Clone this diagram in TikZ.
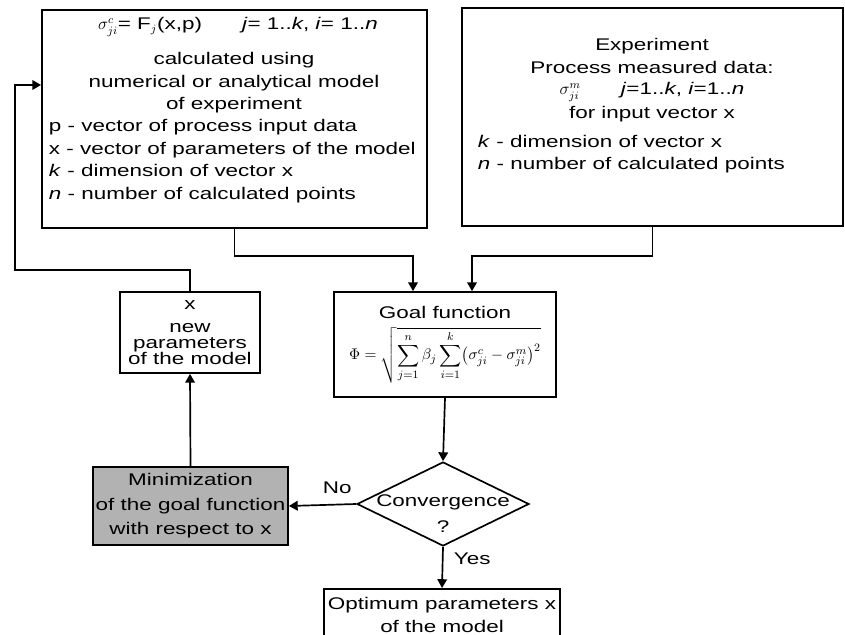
\documentclass[tikz,border=0pt]{standalone}
\usepackage{fontspec}
\setmainfont[FakeStretch=1.33]{Liberation Sans}
\usepackage{amsmath}
\usetikzlibrary{shapes.geometric,arrows.meta,calc}

\begin{document}
\begin{tikzpicture}[x=0.025cm, y=-0.025cm, font=\fontsize{12}{16}\selectfont,
    box/.style={draw, line width=1.2pt, inner sep=0pt},
    arrow/.style={line width=1.2pt, -{Triangle[length=2.2mm, width=2.4mm]}}]
    \useasboundingbox (0,0) rectangle (845,635);
    \clip (0,0) rectangle (845,635);

    % Model box
    \node[box, minimum width=9.625cm, minimum height=5.45cm] (MOD) at (234.5,119) {};
    \node (MODEQ) at (238,27) {$\sigma^{c}_{ji}$= F$_{j}$(x,p) \qquad \textit{j}= 1..\textit{k}, \textit{i}= 1..\textit{n}};
    \node[align=center] (MODTXT) at (234,83) {calculated using\\numerical or analytical model\\of experiment};
    \node[align=left, anchor=west] (MODLST) at (44,161) {p - vector of process input data\\x - vector of parameters of the model\\\textit{k} - dimension of vector x\\\textit{n} - number of calculated points};

    % Experiment box
    \node[box, minimum width=9.525cm, minimum height=5.45cm] (EXP) at (652.5,117) {};
    \node[align=center, font=\fontsize{12}{17}\selectfont] (EXPTXT) at (652,56) {Experiment\\Process measured data:};
    \node (EXPEQ) at (652,92) {$\sigma^{m}_{ji}$ \qquad \textit{j}=1..\textit{k}, \textit{i}=1..\textit{n}};
    \node (EXPIN) at (652,114) {for input vector x};
    \node[align=left, anchor=west] (EXPLST) at (473,154) {\textit{k} - dimension of vector x\\\textit{n} - number of calculated points};

    % Goal function
    \node[box, minimum width=5.55cm, minimum height=2.625cm, align=center] (GOAL) at (445,344.5) {Goal function\\[5pt]{\fontsize{11}{13}\selectfont$\displaystyle\Phi=\sqrt{\sum_{j=1}^{n}\beta_j\sum_{i=1}^{k}\bigl(\sigma^{c}_{ji}-\sigma^{m}_{ji}\bigr)^2}$}};

    % New parameters
    \node[box, minimum width=3.5cm, minimum height=2.025cm, align=center, font=\fontsize{12}{11.5}\selectfont] (NEW) at (190,332.5) {x\\[5pt]new\\parameters\\of the model};

    % Convergence check
    \node[draw, diamond, line width=1.2pt, minimum width=4.3cm, minimum height=2.1cm, inner sep=0pt] (CONV) at (443,504) {};
    \node[align=center, font=\fontsize{12}{18.5}\selectfont] (CONVTXT) at (443,514) {Convergence\\?};

    % Minimization
    \node[box, fill=black!30, minimum width=4.875cm, minimum height=1.95cm, align=center, font=\fontsize{12}{17.5}\selectfont] (MIN) at (190.5,506) {Minimization\\of the goal function\\with respect to x};

    % Optimum
    \node[box, anchor=north, minimum width=5.9cm, minimum height=1.325cm, align=center, font=\fontsize{12}{16.4}\selectfont] (OPT) at (442,588) {Optimum parameters x\\of the model};

    % Connectors
    \draw[arrow] (MOD.south) -- ++(0,27) -| ($(GOAL.north)+(-32,0)$);
    \draw[arrow] (EXP.south) -- ++(0,29) -| ($(GOAL.north)+(27,0)$);
    \draw[arrow] (GOAL.south) -- (CONV.north);
    \draw[arrow] (CONV.west) -- (MIN.east) node[pos=0.28, above=4pt] {No};
    \draw[arrow] (CONV.south) -- (OPT.north) node[pos=0.3, right=4pt] {Yes};
    \draw[arrow] (MIN.north) -- (NEW.south);

    % Feedback loop
    \coordinate (FB1) at (15,270);
    \coordinate (FB2) at (15,85);
    \draw[arrow] (NEW.north) |- (FB1) -- (FB2) -- (FB2 -| MOD.west);
\end{tikzpicture}
\end{document}
